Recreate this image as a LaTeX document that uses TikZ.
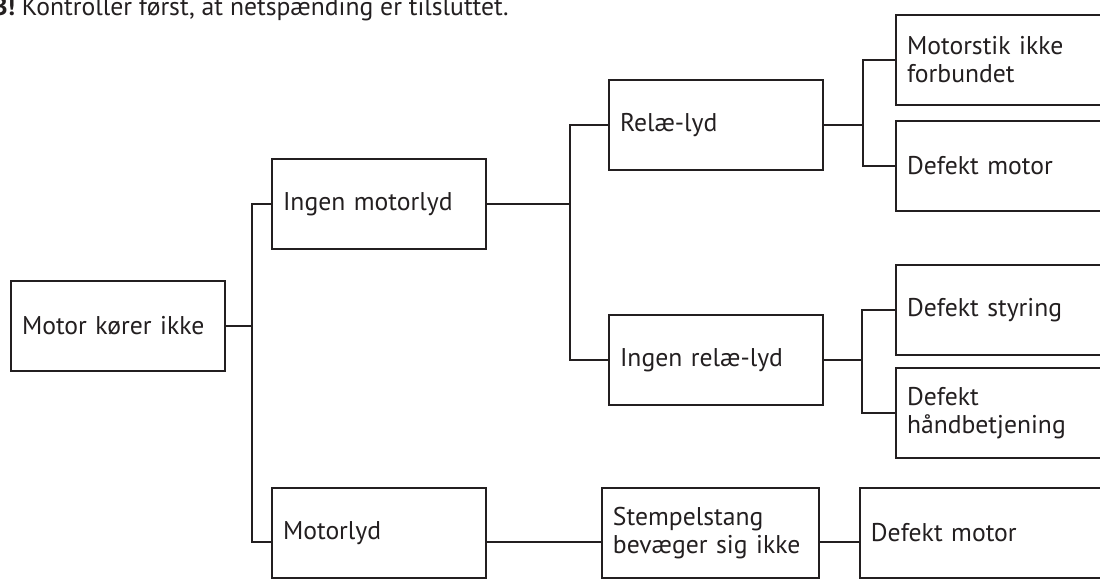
\documentclass[tikz,border=0pt]{standalone}
\usepackage{fontspec}
\setmainfont{PT Sans}
\usepackage{tikz}
\definecolor{ink}{HTML}{231F20}

\begin{document}
\begin{tikzpicture}[x=0.02cm,y=-0.02cm,
	link/.style={draw=ink,line width=1.1pt},
	box/.style={rectangle,draw=ink,line width=1.1pt,text=ink,inner xsep=0.22cm,
		minimum height=1.8cm,text width=3.84cm,align=left,
		font=\fontsize{14.6}{16}\selectfont},
	note/.style={text=ink,inner sep=0pt,anchor=base west,font=\fontsize{14.6}{16}\selectfont}]
			\useasboundingbox (0,0) rectangle (1100,579);
			\clip (0,0) rectangle (1100,579);
			\node[note] (nb) at (-8,15) {\textbf{B!} Kontroller først, at netspænding er tilsluttet.};
			
			\node[box] (root) at (118,326) {Motor kører ikke};
			\node[box] (im) at (379,204) {Ingen motorlyd};
			\node[box] (ml) at (379,533) {Motorlyd};
			\node[box] (rl) at (716,125) {Relæ-lyd};
			\node[box] (irl) at (716,360) {Ingen relæ-lyd};
			\node[box,text width=3.9cm,anchor=west] (sp) at (601,533) {Stempelstang\\bevæger sig ikke};
			\node[box] (ms) at (1003,60) {Motorstik ikke\\forbundet};
			\node[box] (dm1) at (1003,166) {Defekt motor};
			\node[box] (ds) at (1003,310) {Defekt styring};
			\node[box] (dh) at (1003,413) {Defekt\\håndbetjening};
			\node[box,text width=4.6cm,anchor=west] (dm2) at (859,533) {Defekt motor};
			
			\coordinate (s1) at (252,0);
			\coordinate (s2) at (570,0);
			\coordinate (s3) at (863,0);
			\coordinate (s4) at (862,0);
			\coordinate (low) at (0,542);
			
			\draw[link] (root.east)--(root.east -| s1);
			\draw[link] (im.west)--(im.west -| s1)--(low -| s1)--(ml.west |- low);
			\draw[link] (im.east)--(im.east -| s2);
			\draw[link] (rl.west)--(rl.west -| s2)--(irl.west -| s2)--(irl.west);
			\draw[link] (rl.east)--(rl.east -| s3);
			\draw[link] (ms.west)--(ms.west -| s3)--(dm1.west -| s3)--(dm1.west);
			\draw[link] (irl.east)--(irl.east -| s4);
			\draw[link] (ds.west)--(ds.west -| s4)--(dh.west -| s4)--(dh.west);
			\draw[link] (ml.east |- low)--(sp.west |- low);
			\draw[link] (sp.east |- low)--(dm2.west |- low);
		\end{tikzpicture}
\end{document}
